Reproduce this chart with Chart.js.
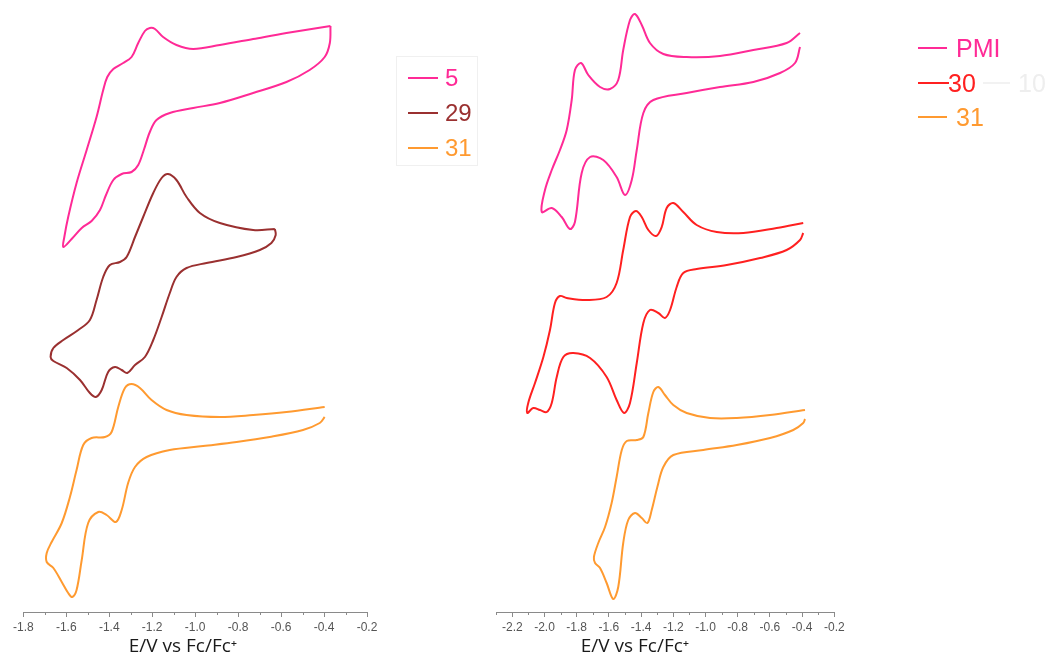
<!DOCTYPE html>
<html>
<head>
<meta charset="utf-8">
<script src="https://cdn.jsdelivr.net/npm/chart.js@4"></script>
<style>
  html, body { margin: 0; padding: 0; background: #fff; }
  #wrap { position: relative; width: 1050px; height: 662px; overflow: hidden; }
  canvas { position: absolute; left: 0; top: 0; }
  .xtitle { position: absolute; top: 632px; font: 19px "Open Sans", sans-serif; color: #1a1a1a; white-space: nowrap; transform: translateX(-50%); }
  .legend { position: absolute; font-family: "Liberation Sans", Arial, sans-serif; }
  .legend .row { position: absolute; left: 0; height: 30px; white-space: nowrap; }
  .legend .sw { position: absolute; top: 14px; height: 2px; }
  .legend .lb { position: absolute; top: 0; line-height: 30px; }
</style>
</head>
<body>
<div id="wrap">
  <canvas id="leftChart" width="1050" height="662"></canvas>
  <canvas id="rightChart" width="1050" height="662"></canvas>
  <div class="xtitle" style="left:183px">E/V vs Fc/Fc⁺</div>
  <div class="xtitle" style="left:635px">E/V vs Fc/Fc⁺</div>
  <div id="leftLegend" class="legend" style="left:396px; top:56px; width:80px; height:108px; border:1px solid #f0f0f0;"></div>
  <div id="rightLegend" class="legend" style="left:918px; top:30px; width:132px; height:110px;"></div>
</div>
<script>
// ---- data: potential (V vs Fc/Fc+) and current (a.u., curves stacked) ----
// left panel
const potential5 = [-0.370, -0.575, -0.730, -0.885, -1.009, -1.087, -1.149, -1.187, -1.211, -1.234, -1.265, -1.296, -1.335, -1.381, -1.409, -1.428, -1.459, -1.505, -1.552, -1.591, -1.609, -1.614,
  -1.575, -1.528, -1.482, -1.443, -1.415, -1.381, -1.342, -1.296, -1.265, -1.239, -1.211, -1.180, -1.118, -1.009, -0.885, -0.730, -0.575, -0.467, -0.397, -0.373, -0.370];
const current5 = [58.6, 57.9, 57.3, 56.7, 56.3, 56.7, 57.5, 58.3, 58.4, 58.1, 56.9, 55.5, 54.9, 54.3, 53.5, 52.2, 49.5, 46.2, 42.9, 39.5, 37.5, 36.5,
  37.3, 38.4, 39.1, 40.2, 41.7, 43.2, 43.8, 44.0, 44.7, 46.2, 48.0, 49.2, 49.9, 50.4, 50.9, 51.9, 53.0, 54.2, 55.5, 56.9, 58.6];

const potential29 = [-0.629, -0.730, -0.885, -0.978, -1.040, -1.087, -1.126, -1.156, -1.195, -1.242, -1.280, -1.319, -1.350, -1.397, -1.428, -1.459, -1.490, -1.544, -1.614, -1.660, -1.673, -1.660,
  -1.598, -1.536, -1.490, -1.462, -1.435, -1.405, -1.373, -1.342, -1.316, -1.280, -1.234, -1.195, -1.156, -1.118, -1.087, -1.040, -0.947, -0.807, -0.699, -0.645, -0.625, -0.629];
const current29 = [38.3, 38.2, 38.9, 39.9, 41.5, 43.2, 43.8, 43.4, 41.9, 39.5, 37.5, 35.5, 35.0, 34.7, 33.5, 31.2, 29.2, 28.2, 27.2, 26.4, 25.5, 25.1,
  24.4, 23.2, 21.9, 21.5, 22.2, 24.0, 24.5, 24.2, 23.9, 24.7, 25.5, 27.2, 29.5, 31.9, 33.5, 34.4, 34.9, 35.5, 36.2, 36.9, 37.7, 38.3];

const potential31L = [-0.397, -0.575, -0.730, -0.885, -1.040, -1.133, -1.203, -1.257, -1.296, -1.327, -1.358, -1.389, -1.420, -1.482, -1.521, -1.552, -1.583, -1.621, -1.668, -1.691, -1.691,
  -1.660, -1.621, -1.591, -1.572, -1.552, -1.528, -1.498, -1.451, -1.412, -1.369, -1.342, -1.312, -1.280, -1.226, -1.118, -0.963, -0.807, -0.653, -0.498, -0.420, -0.397];
const current31L = [20.5, 20.0, 19.7, 19.5, 19.7, 20.2, 21.2, 22.4, 22.8, 22.4, 20.5, 18.0, 17.5, 17.4, 16.7, 14.2, 11.5, 8.9, 7.0, 5.9, 5.0,
  4.4, 3.0, 1.9, 1.5, 2.2, 5.2, 8.9, 10.0, 9.7, 9.0, 10.2, 12.9, 14.5, 15.5, 16.2, 16.6, 17.0, 17.5, 18.2, 18.9, 19.5];

// right panel
const potentialPMI = [-0.413, -0.496, -0.703, -0.910, -1.117, -1.262, -1.345, -1.396, -1.438, -1.469, -1.511, -1.542, -1.593, -1.655, -1.728, -1.773, -1.811, -1.831, -1.862, -1.904, -1.955, -1.997, -2.017,
  -1.955, -1.893, -1.842, -1.811, -1.769, -1.717, -1.635, -1.552, -1.500, -1.458, -1.427, -1.386, -1.324, -1.117, -0.910, -0.703, -0.537, -0.444, -0.413];
const currentPMI = [57.9, 56.9, 56.2, 55.6, 55.5, 55.8, 56.9, 58.7, 59.8, 59.2, 56.2, 53.2, 52.3, 52.5, 53.7, 54.9, 54.2, 51.2, 48.2, 46.2, 44.2, 42.2, 40.0,
  40.4, 39.5, 38.3, 39.0, 43.9, 45.5, 45.2, 43.5, 41.7, 43.2, 46.2, 49.9, 51.2, 51.9, 52.5, 53.0, 53.9, 54.9, 56.5];

const potential30 = [-0.393, -0.558, -0.765, -0.930, -1.055, -1.138, -1.200, -1.241, -1.272, -1.307, -1.355, -1.396, -1.432, -1.469, -1.511, -1.552, -1.614, -1.738, -1.862, -1.904, -1.935, -1.966, -2.007, -2.059, -2.101, -2.107,
  -2.070, -2.028, -1.986, -1.955, -1.924, -1.883, -1.821, -1.717, -1.614, -1.552, -1.506, -1.469, -1.427, -1.386, -1.345, -1.293, -1.252, -1.220, -1.179, -1.138, -1.055, -0.868, -0.661, -0.496, -0.413, -0.393];
const current30 = [38.9, 38.4, 37.9, 38.0, 38.7, 40.0, 40.9, 40.4, 38.5, 37.6, 38.2, 39.5, 40.1, 39.5, 36.2, 32.9, 31.5, 31.2, 31.4, 31.6, 30.9, 28.2, 25.5, 22.9, 20.9, 19.9,
  20.4, 20.2, 20.0, 20.9, 23.5, 25.5, 25.9, 25.4, 23.5, 21.2, 19.9, 20.9, 24.9, 28.9, 30.2, 29.9, 29.4, 30.2, 32.5, 33.9, 34.3, 34.7, 35.4, 36.2, 37.2, 37.9];

const potential31R = [-0.382, -0.599, -0.806, -0.972, -1.117, -1.200, -1.252, -1.293, -1.324, -1.355, -1.386, -1.427, -1.489, -1.520, -1.552, -1.583, -1.624, -1.666, -1.693, -1.686,
  -1.655, -1.614, -1.573, -1.542, -1.511, -1.480, -1.438, -1.396, -1.361, -1.334, -1.299, -1.262, -1.200, -1.014, -0.806, -0.599, -0.455, -0.393, -0.382];
const current31R = [20.2, 19.7, 19.4, 19.4, 19.9, 20.7, 21.7, 22.5, 22.0, 19.9, 17.5, 17.2, 17.1, 16.2, 13.5, 10.9, 8.5, 6.9, 5.5, 4.9,
  4.4, 2.9, 1.3, 2.5, 6.9, 9.2, 9.9, 9.4, 8.9, 10.2, 12.5, 14.5, 15.7, 16.2, 16.7, 17.4, 18.2, 18.9, 19.3];

const leftLabels  = ['5', '29', '31'];
const rightLabels = ['PMI', '30', '31'];
const leftColors  = ['#ff2a96', '#9a3030', '#ff9a30'];
const rightColors = ['#ff2a96', '#ff2020', '#ff9a30'];

// ———————— helpers ————————
function toPoints(xs, ys) {
  return xs.map((x, i) => ({ x: x, y: ys[i] }));
}

function curve(label, xs, ys, color) {
  return {
    label: label,
    data: toPoints(xs, ys),
    showLine: true,
    borderColor: color,
    borderWidth: 2,
    pointRadius: 0,
    tension: 0.35,
    fill: false
  };
}

// small ticks halfway between the labelled ones
const minorTicks = {
  id: 'minorTicks',
  afterDraw(chart) {
    const sx = chart.scales.x;
    const ctx = chart.ctx;
    ctx.save();
    ctx.strokeStyle = '#8a8a8a';
    ctx.lineWidth = 1;
    for (let v = Math.ceil(sx.min * 10 - 1e-6); v <= Math.floor(sx.max * 10 + 1e-6); v++) {
      if (v % 2 === 0) continue;
      const px = Math.round(sx.getPixelForValue(v / 10)) + 0.5;
      ctx.beginPath();
      ctx.moveTo(px, sx.top);
      ctx.lineTo(px, sx.top + 3);
      ctx.stroke();
    }
    ctx.restore();
  }
};

function makeChart(id, datasets, xMin, xMax, padLeft, padRight) {
  return new Chart(document.getElementById(id), {
    type: 'scatter',
    data: { datasets: datasets },
    options: {
      responsive: false,
      animation: false,
      layout: { padding: { left: padLeft, right: padRight, top: 0, bottom: 0 } },
      plugins: { legend: { display: false }, tooltip: { enabled: false } },
      scales: {
        x: {
          type: 'linear',
          min: xMin,
          max: xMax,
          afterFit(scale) { scale.height = 50; },
          border: { display: true, color: '#8a8a8a', width: 1 },
          grid: { display: true, drawOnChartArea: false, drawTicks: true, tickLength: 5, color: '#8a8a8a' },
          ticks: {
            stepSize: 0.2,
            includeBounds: false,
            padding: 3,
            color: '#555',
            font: { family: 'Liberation Sans, Arial, sans-serif', size: 12 },
            callback: v => Number(v).toFixed(1)
          }
        },
        y: { display: false, min: 0, max: 61.2 }
      }
    },
    plugins: [minorTicks]
  });
}

makeChart('leftChart', [
  curve(leftLabels[0], potential5, current5, leftColors[0]),
  curve(leftLabels[1], potential29, current29, leftColors[1]),
  curve(leftLabels[2], potential31L, current31L, leftColors[2])
], -1.8, -0.2, 23.3, 1050 - 367);

makeChart('rightChart', [
  curve(rightLabels[0], potentialPMI, currentPMI, rightColors[0]),
  curve(rightLabels[1], potential30, current30, rightColors[1]),
  curve(rightLabels[2], potential31R, current31R, rightColors[2])
], -2.3, -0.2, 496.2, 1050 - 834.3);

// ———————— legends (html text) ————————
function buildLegend(el, labels, colors, opts) {
  labels.forEach((lab, i) => {
    const row = document.createElement('div');
    row.className = 'row';
    row.style.top = (opts.top + i * opts.gap - 15) + 'px';
    row.innerHTML =
      '<div class="sw" style="left:' + opts.swLeft + 'px;width:' + opts.swWidth[i] + 'px;background:' + colors[i] + '"></div>' +
      '<div class="lb" style="left:' + opts.textLeft[i] + 'px;color:' + colors[i] + ';font-size:' + opts.size + 'px">' + lab + '</div>';
    el.appendChild(row);
  });
}

buildLegend(document.getElementById('leftLegend'), leftLabels, leftColors,
  { top: 21, gap: 35, swLeft: 11, swWidth: [30, 30, 30], textLeft: [48, 48, 48], size: 24 });
buildLegend(document.getElementById('rightLegend'), rightLabels, rightColors,
  { top: 18, gap: 34.5, swLeft: 0, swWidth: [29, 31, 29], textLeft: [38, 30, 38], size: 25 });

// faint leftover entry next to "30"
const ghost = document.createElement('div');
ghost.className = 'row';
ghost.style.top = (18 + 34.5 - 15) + 'px';
ghost.innerHTML = '<div class="sw" style="left:65px;width:27px;background:#f2f2f2"></div>' +
  '<div class="lb" style="left:100px;color:#eeeeee;font-size:25px">10</div>';
document.getElementById('rightLegend').appendChild(ghost);
</script>
</body>
</html>
